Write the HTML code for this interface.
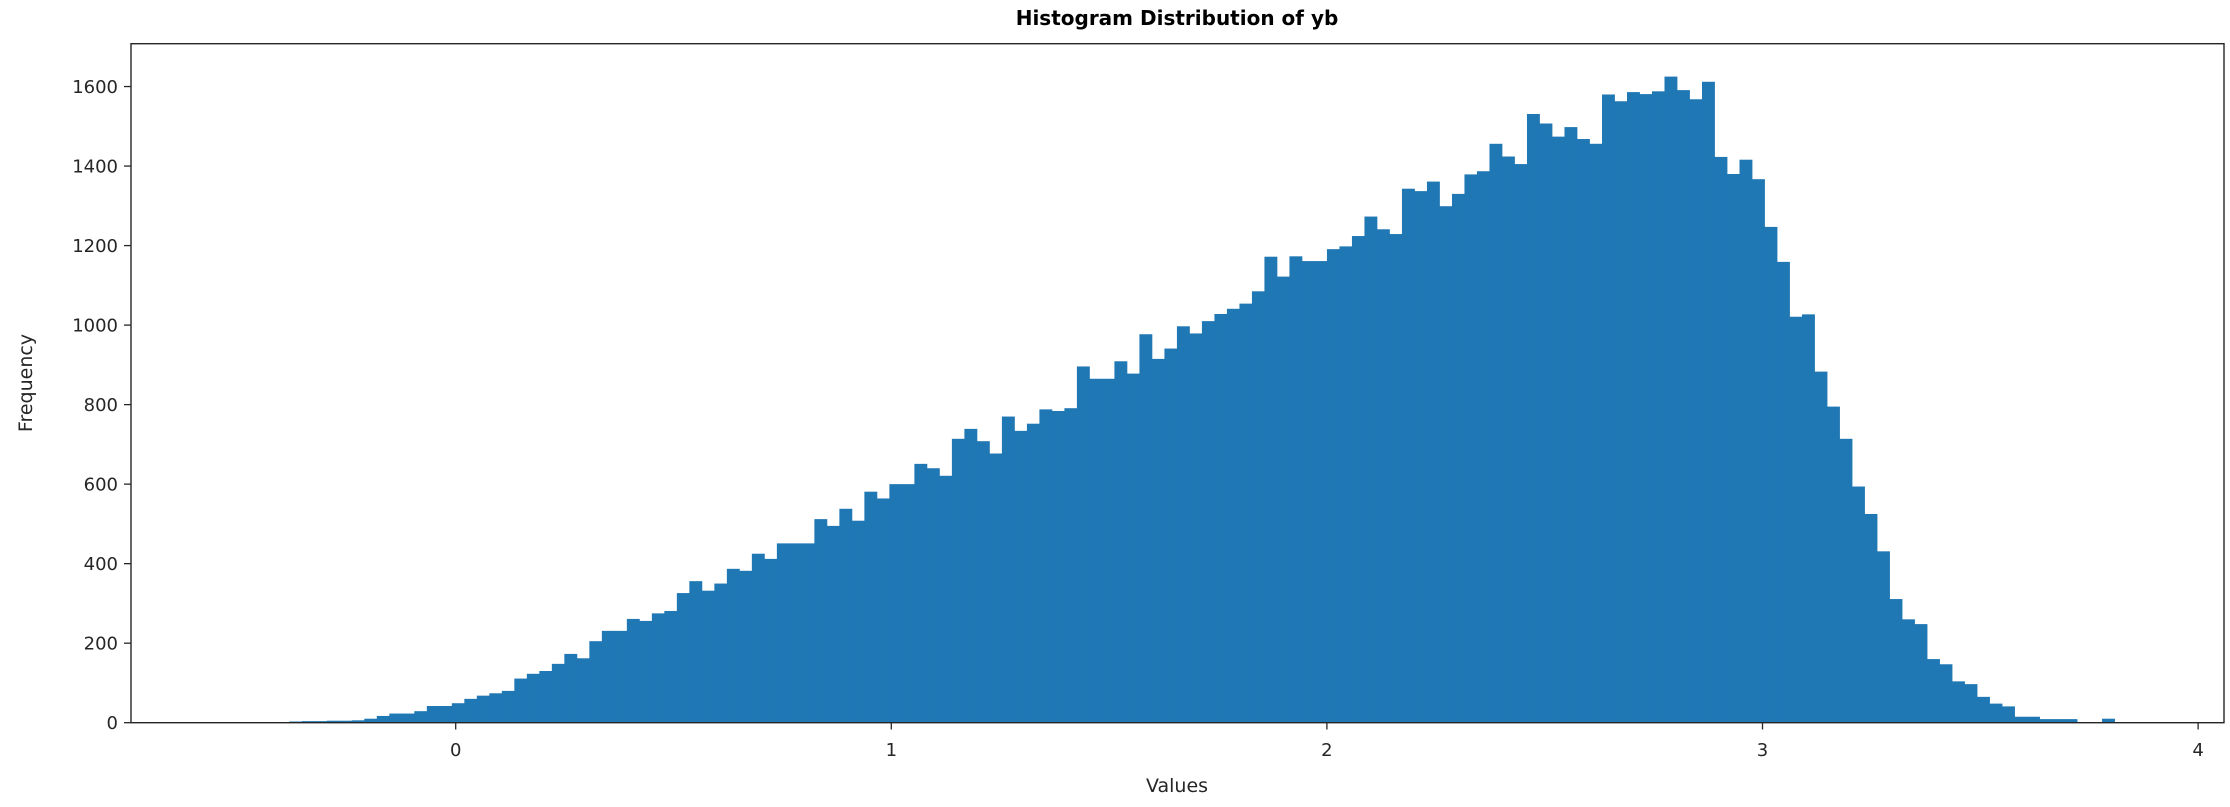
<!DOCTYPE html>
<html><head><meta charset="utf-8"><style>
html,body{margin:0;padding:0;background:#fff;}
svg{display:block;font-family:"DejaVu Sans","Liberation Sans",sans-serif;}
</style></head><body>
<svg id="chart" width="2230" height="807" viewBox="0 0 2230 807" xmlns="http://www.w3.org/2000/svg">
<text x="1177" y="25" text-anchor="middle" font-size="20" font-weight="bold" fill="#000">Histogram Distribution of yb</text>
<g id="bars"></g>
<g id="axes"></g>
<rect x="131" y="43.7" width="2093" height="679" fill="none" stroke="#262626" stroke-width="1.4"/>
<text x="1177" y="792" text-anchor="middle" font-size="19" fill="#262626">Values</text>
<text transform="translate(32,383) rotate(-90)" text-anchor="middle" font-size="19" fill="#262626">Frequency</text>
</svg>
<script>
const binStart = -0.382;
const binWidth = 0.0287;
const counts = [3,4,4,5,5,6,10,17,23,23,29,42,42,49,60,68,74,80,111,123,130,148,173,162,205,231,231,261,256,275,281,326,356,332,350,387,382,
425,412,451,451,451,512,495,538,508,581,564,600,600,651,640,621,714,739,708,677,770,734,752,788,784,791,896,865,865,909,878,977,915,941,997,979,1010,
1028,1041,1054,1085,1172,1122,1173,1161,1161,1191,1198,1224,1273,1241,1229,1343,1337,1361,1299,1330,1379,1387,1456,1424,1405,1531,1507,1474,1498,1468,1456,1580,1563,1586,1581,1588,1625,
1591,1568,1612,1423,1380,1416,1367,1247,1159,1021,1027,883,795,714,594,525,431,311,260,248,160,147,104,97,65,48,41,15,15,9,9,9,0,0,10];
const xTicks = [0,1,2,3,4];
const yTicks = [0,200,400,600,800,1000,1200,1400,1600];

const NS = "http://www.w3.org/2000/svg";
function xs(v){ return 455.7 + v*435.6; }
function ys(v){ return 722.7 - v*0.3976; }

const bars = document.getElementById('bars');
counts.forEach((c,i)=>{
  if(c<=0) return;
  const x0 = xs(binStart + i*binWidth), x1 = xs(binStart + (i+1)*binWidth);
  const r = document.createElementNS(NS,'rect');
  r.setAttribute('x', x0);
  r.setAttribute('width', x1-x0+0.4);
  r.setAttribute('y', ys(c));
  r.setAttribute('height', ys(0)-ys(c));
  r.setAttribute('fill', '#1f77b4');
  
  
  bars.appendChild(r);
});

const axes = document.getElementById('axes');
xTicks.forEach(t=>{
  const x = xs(t);
  const l = document.createElementNS(NS,'line');
  l.setAttribute('x1',x); l.setAttribute('x2',x);
  l.setAttribute('y1',722.7); l.setAttribute('y2',729.5);
  l.setAttribute('stroke','#262626'); l.setAttribute('stroke-width','1.3');
  
  
  axes.appendChild(l);
  const tx = document.createElementNS(NS,'text');
  tx.setAttribute('x',x); tx.setAttribute('y',756);
  tx.setAttribute('text-anchor','middle'); tx.setAttribute('font-size','18'); tx.setAttribute('fill','#262626');
  tx.textContent = t;
  
  
  axes.appendChild(tx);
});
yTicks.forEach(t=>{
  const y = ys(t);
  const l = document.createElementNS(NS,'line');
  l.setAttribute('x1',124); l.setAttribute('x2',131);
  l.setAttribute('y1',y); l.setAttribute('y2',y);
  l.setAttribute('stroke','#262626'); l.setAttribute('stroke-width','1.3');
  
  
  axes.appendChild(l);
  const tx = document.createElementNS(NS,'text');
  tx.setAttribute('x',118); tx.setAttribute('y',y+6.5);
  tx.setAttribute('text-anchor','end'); tx.setAttribute('font-size','18'); tx.setAttribute('fill','#262626');
  tx.textContent = t;
  
  
  axes.appendChild(tx);
});
</script>
</body></html>
